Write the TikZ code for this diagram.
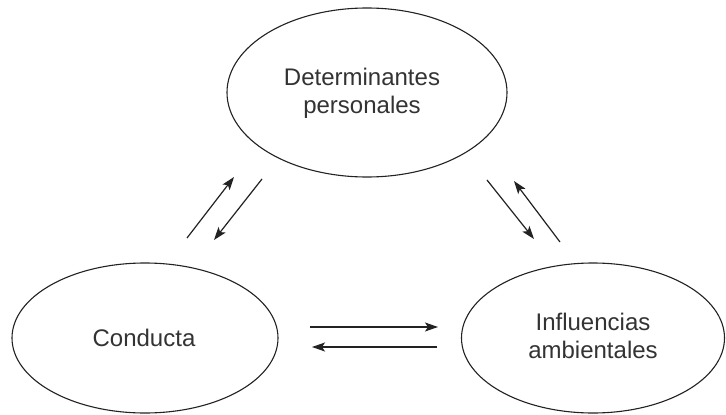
\documentclass[tikz,border=0pt]{standalone}
\usepackage{fontspec}
\setmainfont{Liberation Sans}
\usetikzlibrary{shapes.geometric,arrows.meta}
\definecolor{ink}{HTML}{222222}
\definecolor{txt}{HTML}{333333}
\begin{document}
\begin{tikzpicture}[x=1pt,y=-1pt,
  oval/.style={draw=ink, line width=1.1pt, ellipse, inner sep=0pt},
  lbl/.style={align=center, inner sep=0pt, font=\fontsize{24}{27.6}\selectfont, text=txt},
  arr/.style={draw=ink, line width=1.2pt, -{Stealth[length=13pt,width=9pt,inset=3pt]}}]
\useasboundingbox[fill=white] (0,0) rectangle (726,415);
\node[oval, minimum width=280pt, minimum height=169pt] (dp) at (367,92.5) {};
\node[lbl] (dpt) at (362,93) {Determinantes\\personales};
\node[oval, minimum width=266pt, minimum height=150pt] (co) at (145,338) {};
\node[lbl] (cot) at (144,338) {Conducta};
\node[oval, minimum width=263pt, minimum height=150pt] (ia) at (593,338) {};
\node[lbl] (iat) at (593,336) {Influencias\\ambientales};
\coordinate (l1s) at (187,238); \coordinate (l1e) at (234,177);
\coordinate (l2s) at (262,179); \coordinate (l2e) at (214,240);
\coordinate (r1s) at (487,180); \coordinate (r1e) at (534,239);
\coordinate (r2s) at (560,242); \coordinate (r2e) at (514,181);
\coordinate (h1s) at (310,327); \coordinate (h1e) at (438,327);
\coordinate (h2s) at (437,347); \coordinate (h2e) at (312,347);
\draw[arr] (l1s) -- (l1e);
\draw[arr] (l2s) -- (l2e);
\draw[arr] (r1s) -- (r1e);
\draw[arr] (r2s) -- (r2e);
\draw[arr] (h1s) -- (h1e);
\draw[arr] (h2s) -- (h2e);
\end{tikzpicture}
\end{document}
